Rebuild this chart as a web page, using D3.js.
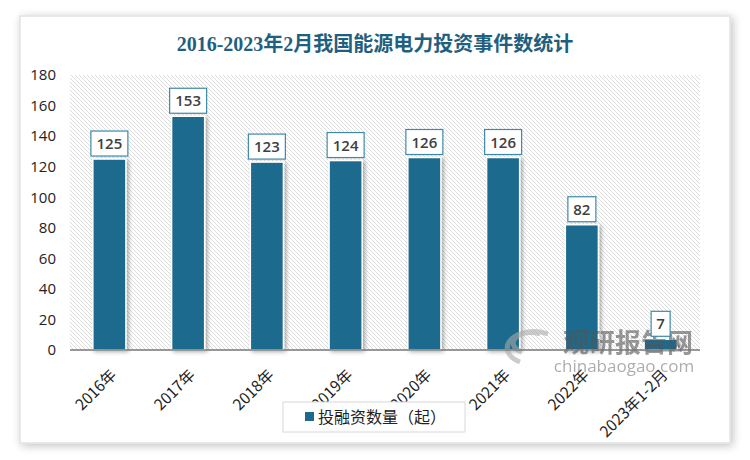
<!DOCTYPE html>
<html><head><meta charset="utf-8">
<script src="https://cdn.jsdelivr.net/npm/d3@7/dist/d3.min.js"></script>
<style>
html,body{margin:0;padding:0;background:#fff;}
svg{display:block;}
</style></head>
<body>
<svg id="chart" width="750" height="460"></svg>
<script>
const categories = ["2016年","2017年","2018年","2019年","2020年","2021年","2022年","2023年1-2月"];
const values = [125,153,123,124,126,126,82,7];
const yTicks = [0,20,40,60,80,100,120,140,160,180];
const titleText = "2016-2023年2月我国能源电力投资事件数统计";
const legendText = "投融资数量（起）";

const svg = d3.select("#chart");
const W = 750, H = 460;
const m = {left:70, right:50, top:75, bottom:110};
const pw = W - m.left - m.right, ph = H - m.top - m.bottom;

const defs = svg.append("defs");
const sh = defs.append("filter").attr("id","cardShadow").attr("x","-5%").attr("y","-5%").attr("width","110%").attr("height","110%");
sh.append("feGaussianBlur").attr("in","SourceAlpha").attr("stdDeviation",5);
sh.append("feOffset").attr("dx",2).attr("dy",2).attr("result","b");
sh.append("feComponentTransfer").append("feFuncA").attr("type","linear").attr("slope",0.25);
const mg = sh.append("feMerge"); mg.append("feMergeNode"); mg.append("feMergeNode").attr("in","SourceGraphic");

const bsh = defs.append("filter").attr("id","barShadow").attr("x","-30%").attr("y","-10%").attr("width","160%").attr("height","120%");
bsh.append("feGaussianBlur").attr("in","SourceAlpha").attr("stdDeviation",2);
bsh.append("feOffset").attr("dx",2).attr("dy",1).attr("result","b");
bsh.append("feComponentTransfer").append("feFuncA").attr("type","linear").attr("slope",0.35);
const mg2 = bsh.append("feMerge"); mg2.append("feMergeNode"); mg2.append("feMergeNode").attr("in","SourceGraphic");

const pat = defs.append("pattern").attr("id","hatch").attr("patternUnits","userSpaceOnUse")
  .attr("width",4).attr("height",4);
pat.append("rect").attr("width",4).attr("height",4).attr("fill","#ffffff");
pat.append("path").attr("d","M-1,-1 L5,5 M-1,3 L1,5 M3,-1 L5,1").attr("stroke","#dcdcdc").attr("stroke-width",1);

// card
svg.append("rect").attr("x",20).attr("y",16).attr("width",710).attr("height",427)
  .attr("fill","#fff").attr("stroke","#e2e2e2").attr("stroke-width",1.5).attr("filter","url(#cardShadow)");

svg.append("text").attr("x",375).attr("y",51).attr("text-anchor","middle")
  .attr("font-family","'Liberation Serif','Noto Sans CJK SC',serif").attr("font-size",20).attr("font-weight","bold")
  .attr("fill","#1f5f80").text(titleText);

const x = d3.scaleBand().domain(categories).range([m.left, m.left+pw]).paddingInner(0.58).paddingOuter(0.29);
const y = d3.scaleLinear().domain([0,180]).range([m.top+ph, m.top]);

svg.append("rect").attr("x",m.left).attr("y",m.top).attr("width",pw).attr("height",ph).attr("fill","url(#hatch)");

// y axis
const ya = svg.append("g").attr("transform",`translate(${m.left},0)`)
  .call(d3.axisLeft(y).tickValues(yTicks).tickSize(0).tickPadding(14));
ya.select(".domain").remove();
ya.selectAll("text").attr("font-family","'Open Sans','Noto Sans',sans-serif").attr("font-size",15).attr("fill","#222");

// bars
svg.selectAll(".bar").data(values).join("rect").attr("class","bar")
  .attr("x",(d,i)=>x(categories[i])).attr("y",d=>y(d))
  .attr("width",x.bandwidth()).attr("height",d=>y(0)-y(d))
  .attr("fill","#1b6a8d").attr("stroke","#ffffff").attr("stroke-width",1.5).attr("filter","url(#barShadow)");

// watermark (behind labels)
const wm = svg.append("g").attr("opacity",0.6);
wm.append("text").attr("x",628).attr("y",352).attr("text-anchor","middle")
  .attr("font-family","'Noto Sans CJK SC',sans-serif").attr("font-size",26).attr("font-weight","bold")
  .attr("fill","#555").text("观研报告网");
wm.append("text").attr("x",624).attr("y",372).attr("text-anchor","middle")
  .attr("font-family","'Open Sans',sans-serif").attr("font-size",17)
  .attr("fill","#777").text("chinabaogao.com");
wm.append("path").attr("d","M548,334 A26,16 0 1,0 520,362 M540,334 A17,10 0 1,0 522,352")
  .attr("fill","none").attr("stroke","#aaa").attr("stroke-width",5);

// x axis
const xa = svg.append("g").attr("transform",`translate(0,${m.top+ph})`)
  .call(d3.axisBottom(x).tickSize(0).tickPadding(0));
xa.select(".domain").attr("stroke","#777").attr("stroke-width",1.5).attr("d",`M${m.left},0H${m.left+pw}`);
xa.selectAll("text").attr("font-family","'Noto Sans CJK SC','Noto Sans',sans-serif").attr("font-size",15.5).attr("fill","#222")
  .attr("text-anchor","end").attr("dy",0).attr("transform","translate(8,26) rotate(-45)");

// labels
const lab = svg.selectAll(".lab").data(values).join("g").attr("class","lab")
  .attr("transform",(d,i)=>`translate(${x(categories[i])+x.bandwidth()/2},${y(d)-16})`);
lab.each(function(d){
  const g = d3.select(this);
  const t = String(d);
  const w = t.length*9 + 10;
  g.append("rect").attr("x",-w/2).attr("y",-12).attr("width",w).attr("height",25)
    .attr("fill","#fff").attr("stroke","#3d8aa8").attr("stroke-width",1.2);
  g.append("text").attr("text-anchor","middle").attr("y",6)
    .attr("font-family","'Open Sans','Noto Sans',sans-serif").attr("font-size",15).attr("font-weight","600")
    .attr("fill","#404040").text(t);
});

// legend
const lg = svg.append("g");
lg.append("rect").attr("x",283).attr("y",402).attr("width",182).attr("height",30)
  .attr("fill","#fff").attr("stroke","#d8d8d8").attr("stroke-width",1);
lg.append("rect").attr("x",305).attr("y",412).attr("width",9).attr("height",9).attr("fill","#1b6a8d");
lg.append("text").attr("x",318).attr("y",423).attr("font-family","'Noto Sans CJK SC',sans-serif")
  .attr("font-size",16).attr("fill","#222").text(legendText);
</script>
</body></html>
